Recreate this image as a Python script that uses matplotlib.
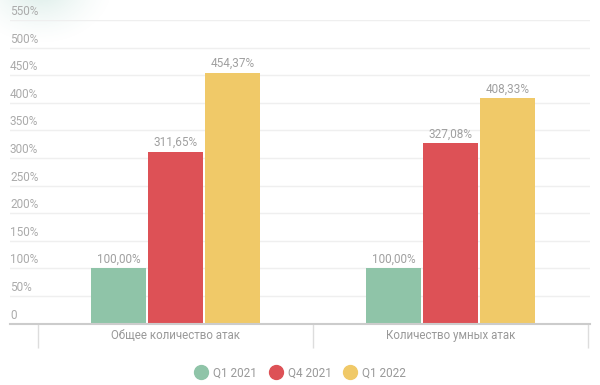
import matplotlib
matplotlib.use('Agg')
import numpy as np
import matplotlib.pyplot as plt
from matplotlib.lines import Line2D
from matplotlib.transforms import offset_copy

categories = ['Общее количество атак', 'Количество умных атак']
series = ['Q1 2021', 'Q4 2021', 'Q1 2022']
values = {
    'Q1 2021': [100.00, 100.00],
    'Q4 2021': [311.65, 327.08],
    'Q1 2022': [454.37, 408.33],
}
colors = {'Q1 2021': '#8fc4a8', 'Q4 2021': '#dd5156', 'Q1 2022': '#f0c968'}
y_ticks = [0, 50, 100, 150, 200, 250, 300, 350, 400, 450, 500, 550]

plt.rcParams['font.family'] = ['Roboto', 'DejaVu Sans']

fig = plt.figure(figsize=(6, 3.85), dpi=100)

# faint teal glow in the top-left corner (decoration)
bg = fig.add_axes([0, 0, 1, 1], zorder=-1)
bg.axis('off')
yy, xx = np.mgrid[0:385, 0:600]
d = np.hypot((xx - 40) / 75.0, (yy + 15) / 60.0)
alpha = np.clip(1 - d, 0, 1) ** 1.5 * 0.35
glow = np.zeros((385, 600, 4))
glow[..., 0], glow[..., 1], glow[..., 2] = 0.55, 0.78, 0.72
glow[..., 3] = alpha
bg.imshow(glow, extent=[0, 600, 385, 0], aspect='auto')
bg.set_xlim(0, 600)
bg.set_ylim(385, 0)

ax = fig.add_axes([10 / 600, (385 - 323.6) / 385, 580 / 600, (323.6 - 20) / 385])
ax.patch.set_alpha(0)

bar_w = 0.202
step = 0.207
for i, s in enumerate(series):
    xs = [c + 0.5 + (i - 1) * step for c in range(len(categories))]
    bars = ax.bar(xs, values[s], width=bar_w, color=colors[s], zorder=3)
    for b, v in zip(bars, values[s]):
        ax.annotate(f"{v:.2f}%".replace('.', ','),
                    xy=(b.get_x() + b.get_width() / 2, v),
                    xytext=(0, 2), textcoords='offset points',
                    ha='center', va='bottom', fontsize=8.5, color='#a0a0a0')

ax.set_xlim(-0.102, 2.007)
ax.set_ylim(0, 550)

# grid + y labels sitting above lines
for t in y_ticks:
    if t > 0:
        ax.axhline(t, color='#efefef', linewidth=1, zorder=1)
ax.set_yticks(y_ticks)
ax.set_yticklabels([])
ax.tick_params(axis='y', length=0)
tr = offset_copy(ax.get_yaxis_transform(), fig=fig, x=0, y=1.5, units='points')
for t in y_ticks:
    ax.text(0, t, '0' if t == 0 else f"{t}%", transform=tr,
            ha='left', va='bottom', fontsize=8.5, color='#ababab')

# category axis
ax.set_xticks([0.5, 1.5])
ax.set_xticklabels(categories, fontsize=8.3, color='#999999')
ax.set_xticks([0, 1, 2], minor=True)
ax.tick_params(axis='x', which='major', length=0, pad=4)
ax.tick_params(axis='x', which='minor', length=17, width=1, color='#dddddd',
               direction='out')

for side in ['top', 'right', 'left']:
    ax.spines[side].set_visible(False)
ax.spines['bottom'].set_color('#cccccc')
ax.spines['bottom'].set_linewidth(1.5)
ax.spines['bottom'].set_zorder(4)

handles = [Line2D([], [], marker='o', linestyle='', markersize=10,
                  markerfacecolor=colors[s], markeredgecolor=colors[s], label=s)
           for s in series]
leg = fig.legend(handles=handles, loc='center', bbox_to_anchor=(0.5, (385 - 373) / 385),
                 ncol=3, frameon=False, fontsize=8.5, handletextpad=0.4,
                 columnspacing=1.0, handlelength=1.2)
for txt in leg.get_texts():
    txt.set_color('#999999')

fig.savefig('out.png', dpi=100)
